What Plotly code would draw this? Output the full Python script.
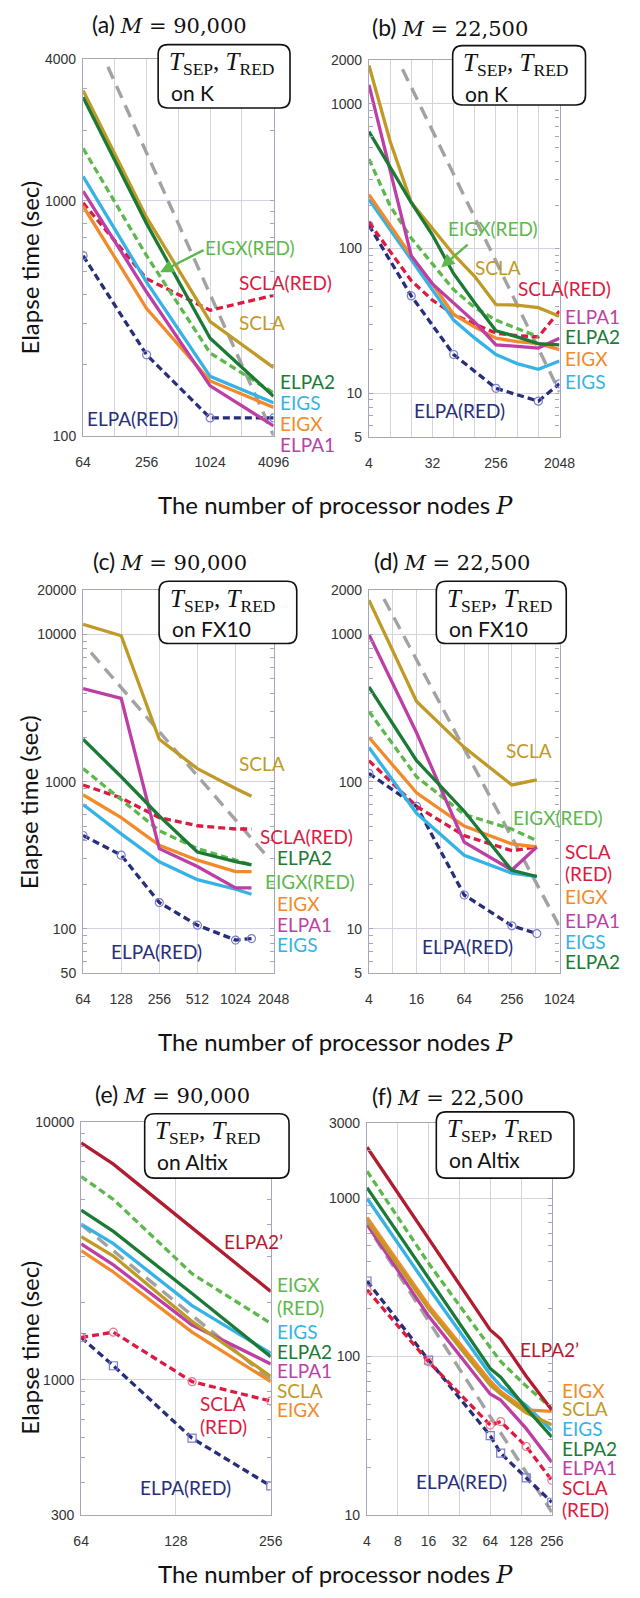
import math
import plotly.graph_objects as go

W, H = 640, 1598

# ---------------- data (elapse time in seconds vs. number of nodes P) ----------------
# (a) K computer, M = 90,000
A_P = [64, 256, 1024, 4096]
A_VALUES = {
    "SCLA": [2950, 850, 306, 195],
    "SCLA(RED)": [980, 466, 342, 396],
    "EIGX": [949, 348, 171, 132],
    "EIGX(RED)": [1674, 584, 225, 152],
    "ELPA1": [1100, 409, 163, 110],
    "ELPA2": [2765, 800, 260, 147],
    "ELPA(RED)": [584, 221, 119, 119],
    "EIGS": [1271, 451, 179, 138],
}
A_IDEAL_P = [110, 4096]
A_IDEAL = [3720, 100]

# (b) K computer, M = 22,500
B_P = [4, 8, 16, 32, 64, 128, 256, 512, 1024, 2048]
B_VALUES = {
    "SCLA": [1850, 552, 208, 138, 91, 64, 41, 40.6, 39, 34],
    "SCLA(RED)": [152, 96, 60, 44, 35, 30, 26, 25, 24.5, 37],
    "EIGX": [236, 145, 89, 57, 35, 28.6, 24, 22.7, 22, 20],
    "EIGX(RED)": [416, 197, 118, 78, 52, 39, 32, 28, 24.6, None],
    "ELPA1": [1358, 340, 89, 57, 42, 31, 21.6, 21, 20.5, 24],
    "ELPA2": [644, 366, 208, 124, 67, 42, 27, 24.5, 22, 21.6],
    "ELPA(RED)": [145, None, 47, None, 18.5, None, 10.8, None, 8.8, 11.6],
    "EIGS": [219, 135, 84, 52, 32, 24, 18.5, 16, 14.6, 16.7],
}
B_IDEAL_P = [12, 2048]
B_IDEAL = [1740, 10.2]

# (c) FX10, M = 90,000
C_P = [64, 128, 256, 512, 1024, 1369]
C_VALUES = {
    "SCLA": [11720, 9800, 1942, 1226, 900, 795],
    "SCLA(RED)": [950, 775, 570, 502, 477, 477],
    "EIGX": [815, 570, 370, 293, 245, 245],
    "EIGX(RED)": [1226, 755, 465, 351, 293, 272],
    "ELPA1": [4285, 3675, 351, 265, 190, 190],
    "ELPA2": [1942, 1080, 585, 333, 286, 272],
    "ELPA(RED)": [431, 317, 151, 106, 84, 86],
    "EIGS": [700, 442, 286, 216, 186, 172],
}
C_IDEAL_P = [74, 1850]
C_IDEAL = [7516, 305]

# (d) FX10, M = 22,500
D_P = [4, 16, 64, 256, 529]
D_VALUES = {
    "SCLA": [1711, 350, 171, 95, 103],
    "SCLA(RED)": [139, 68, 43, 34, 36],
    "EIGX": [200, 84, 50, 37.8, 36],
    "EIGX(RED)": [300, 108, 60, 47.6, 39.8],
    "ELPA1": [1000, 215, 38.8, 25.1, 36],
    "ELPA2": [441, 139, 63, 25, 22.7],
    "ELPA(RED)": [114, 68, 17, 10.5, 9.3],
    "EIGS": [171, 61, 31.6, 23.9, 22.7],
}
D_IDEAL_P = [6.2, 1024]
D_IDEAL = [1740, 10.4]

# (e) Altix, M = 90,000
E_P = [64, 81, 144, 256]
E_VALUES = {
    "ELPA2'": [8277, 6850, 3880, 2198],
    "EIGX(RED)": [6133, 5000, 2577, 1656],
    "ELPA2": [4545, 3760, 2160, 1228],
    "EIGS": [4006, 3370, 1940, 1267],
    "SCLA": [3588, 3016, 1683, 1032],
    "ELPA1": [3366, 2788, 1630, 1152],
    "EIGX": [3164, 2617, 1531, 984],
    "SCLA(RED)": [1459, 1530, 984, 827],
    "ELPA(RED)": [1459, 1134, 594, 388],
}
E_IDEAL_P = [64, 256]
E_IDEAL = [4000, 1000]

# (f) Altix, M = 22,500
F_P = [4, 16, 64, 81, 144, 256]
F_VALUES = {
    "ELPA2'": [2100, 555, 147, 129, 75, 46],
    "EIGX(RED)": [1483, 388, 114, 93, 65, 47],
    "ELPA2": [1166, 316, 84, 74, 47, 31],
    "EIGS": [1000, 271, 77, 65, 49, 34],
    "EIGX": [755, 210, 70, 60, 46, 45],
    "SCLA": [718, 200, 66, 58, 44, 37],
    "ELPA1": [681, 180, 58, 53, 35, 21.5],
    "SCLA(RED)": [264, 92.6, 36.9, 38.8, 27, 16.5],
    "ELPA(RED)": [300, 95, 31.6, 24.5, 17.1, 12],
}
F_IDEAL_P = [4.8, 256]
F_IDEAL = [560, 10.4]

# tick labels
A_XTICKS = [64, 256, 1024, 4096]; A_YTICKS = [100, 1000, 4000]
B_XTICKS = [4, 32, 256, 2048];    B_YTICKS = [5, 10, 100, 1000, 2000]
C_XTICKS = [64, 128, 256, 512, 1024, 2048]; C_YTICKS = [50, 100, 1000, 10000, 20000]
D_XTICKS = [4, 16, 64, 256, 1024]; D_YTICKS = [5, 10, 100, 1000, 2000]
E_XTICKS = [64, 128, 256];         E_YTICKS = [300, 1000, 10000]
F_XTICKS = [4, 8, 16, 32, 64, 128, 256]; F_YTICKS = [10, 100, 1000, 3000]

# ---------------- styles ----------------
COLORS = {
    "SCLA": "#bf9a26",
    "SCLA(RED)": "#dc1a42",
    "EIGX": "#f28a2a",
    "EIGX(RED)": "#5db84c",
    "ELPA1": "#bd3fa6",
    "ELPA2": "#1b7a34",
    "ELPA(RED)": "#272e7c",
    "EIGS": "#36b3e6",
    "ELPA2'": "#b01c30",
}
DASHED = {"SCLA(RED)", "EIGX(RED)", "ELPA(RED)"}
ORDER = ["ELPA(RED)", "SCLA(RED)", "EIGX(RED)", "EIGS", "EIGX", "ELPA1",
         "SCLA", "ELPA2", "ELPA2'"]
LABEL_FONT = "Lato"
TICK_FONT = "Liberation Sans"
SERIF = "DejaVu Serif"
GRID = "#d3d3df"
FRAME = "#a6a6ba"


def X(px):
    return px / W


def Y(py):
    return 1 - py / H


def fmt(v):
    return f"{v:g}"


panels = [
    dict(k="", P=A_P, V=A_VALUES, IP=A_IDEAL_P, IV=A_IDEAL, xt=A_XTICKS, yt=A_YTICKS,
         xr=(64, 4096), yr=(100, 4000), box=(78, 276, 52, 432), xgrid=True,
         sq=False, machine="K", title="(a)", M="90,000"),
    dict(k="2", P=B_P, V=B_VALUES, IP=B_IDEAL_P, IV=B_IDEAL, xt=B_XTICKS, yt=B_YTICKS,
         xr=(4, 2048), yr=(5, 2000), box=(375, 573, 53, 433), xgrid=True,
         sq=False, machine="K", title="(b)", M="22,500"),
    dict(k="3", P=C_P, V=C_VALUES, IP=C_IDEAL_P, IV=C_IDEAL, xt=C_XTICKS, yt=C_YTICKS,
         xr=(64, 2048), yr=(50, 20000), box=(78, 276, 588, 975), xgrid=True,
         sq=False, machine="FX10", title="(c)", M="90,000"),
    dict(k="4", P=D_P, V=D_VALUES, IP=D_IDEAL_P, IV=D_IDEAL, xt=D_XTICKS, yt=D_YTICKS,
         xr=(4, 1024), yr=(5, 2000), box=(375, 573, 588, 975), xgrid=True,
         sq=False, machine="FX10", title="(d)", M="22,500"),
    dict(k="5", P=E_P, V=E_VALUES, IP=E_IDEAL_P, IV=E_IDEAL, xt=E_XTICKS, yt=E_YTICKS,
         xr=(64, 256), yr=(300, 10000), box=(76, 273, 1125, 1522), xgrid=False,
         sq=True, machine="Altix", title="(e)", M="90,000"),
    dict(k="6", P=F_P, V=F_VALUES, IP=F_IDEAL_P, IV=F_IDEAL, xt=F_XTICKS, yt=F_YTICKS,
         xr=(4, 256), yr=(10, 3000), box=(373, 565, 1126, 1522), xgrid=True,
         sq=True, machine="Altix", title="(f)", M="22,500"),
]

TITLE_POS = [(168, 16), (459, 19), (168, 559), (461, 559), (171, 1097), (457, 1099)]
BOXES = [(156, 37, 293, 101), (462, 38, 600, 98), (157, 579, 300, 642),
         (445, 579, 580, 642), (142, 1117, 292, 1182), (445, 1115, 588, 1182)]

LABELS = [
    [("EIGX(RED)", 203, 242, "EIGX(RED)"), ("SCLA(RED)", 238, 277, "SCLA(RED)"),
     ("SCLA", 238, 318, "SCLA"), ("ELPA2", 280, 377, "ELPA2"), ("EIGS", 280, 398, "EIGS"),
     ("EIGX", 280, 420, "EIGX"), ("ELPA1", 280, 441, "ELPA1"),
     ("ELPA(RED)", 80, 415, "ELPA(RED)")],
    [("EIGX(RED)", 455, 223, "EIGX(RED)"), ("SCLA", 483, 262, "SCLA"),
     ("SCLA(RED)", 528, 283, "SCLA(RED)"), ("ELPA1", 577, 312, "ELPA1"),
     ("ELPA2", 577, 332, "ELPA2"), ("EIGX", 577, 354, "EIGX"), ("EIGS", 577, 377, "EIGS"),
     ("ELPA(RED)", 420, 407, "ELPA(RED)")],
    [("SCLA", 238, 763, "SCLA"), ("SCLA(RED)", 260, 837, "SCLA(RED)"),
     ("ELPA2", 277, 858, "ELPA2"), ("EIGX(RED)", 265, 882, "EIGX(RED)"),
     ("EIGX", 277, 905, "EIGX"), ("ELPA1", 277, 926, "ELPA1"), ("EIGS", 277, 946, "EIGS"),
     ("ELPA(RED)", 105, 953, "ELPA(RED)")],
    [("SCLA", 515, 750, "SCLA"), ("EIGX(RED)", 523, 818, "EIGX(RED)"),
     ("SCLA(RED)", 577, 852, "SCLA"), ("SCLA(RED)", 577, 874, "(RED)"),
     ("EIGX", 577, 897, "EIGX"), ("ELPA1", 577, 922, "ELPA1"), ("EIGS", 577, 943, "EIGS"),
     ("ELPA2", 577, 963, "ELPA2"), ("ELPA(RED)", 428, 948, "ELPA(RED)")],
    [("ELPA2'", 222, 1246, "ELPA2’"), ("EIGX(RED)", 277, 1289, "EIGX"),
     ("EIGX(RED)", 277, 1313, "(RED)"), ("EIGS", 277, 1337, "EIGS"),
     ("ELPA2", 277, 1357, "ELPA2"), ("ELPA1", 277, 1376, "ELPA1"),
     ("SCLA", 277, 1396, "SCLA"), ("EIGX", 277, 1416, "EIGX"),
     ("SCLA(RED)", 197, 1410, "SCLA"), ("SCLA(RED)", 197, 1433, "(RED)"),
     ("ELPA(RED)", 135, 1494, "ELPA(RED)")],
    [("ELPA2'", 530, 1355, "ELPA2’"), ("EIGX", 573, 1396, "EIGX"),
     ("SCLA", 573, 1415, "SCLA"), ("EIGS", 573, 1435, "EIGS"),
     ("ELPA2", 573, 1455, "ELPA2"), ("ELPA1", 573, 1474, "ELPA1"),
     ("SCLA(RED)", 573, 1494, "SCLA"), ("SCLA(RED)", 573, 1517, "(RED)"),
     ("ELPA(RED)", 422, 1488, "ELPA(RED)")],
]

fig = go.Figure()
layout = dict(width=W, height=H, margin=dict(l=0, r=0, t=0, b=0),
              paper_bgcolor="white", plot_bgcolor="white", showlegend=False)
annotations = []
shapes = []


def minor_vals(lo, hi):
    out = []
    e0 = math.floor(math.log10(lo))
    e1 = math.ceil(math.log10(hi))
    for e in range(e0, e1 + 1):
        for m in range(2, 10):
            v = m * 10 ** e
            if lo < v < hi:
                out.append(v)
    return out


for i, p in enumerate(panels):
    k = p["k"]
    x0, x1, ytop, ybot = p["box"]
    xa = "xaxis" + k
    ya = "yaxis" + k
    xid = "x" + k
    yid = "y" + k
    lo, hi = p["xr"]
    extra = []
    if p["xgrid"]:
        v = lo
        while v <= hi * 1.001:
            if v not in p["xt"]:
                extra.append(v)
            v *= 2
    layout[xa] = dict(
        type="log", domain=[X(x0), X(x1)], range=[math.log10(lo), math.log10(hi)],
        anchor=yid, tickvals=p["xt"], ticktext=[fmt(v) for v in p["xt"]],
        showgrid=True, gridcolor=GRID, gridwidth=1, showline=True, linecolor=FRAME,
        linewidth=1.2, mirror=True, ticks="", zeroline=False, ticklabelstandoff=13,
        minor=dict(tickvals=extra if extra else [hi * 10], showgrid=True,
                   gridcolor=GRID, gridwidth=1, ticks=""),
        tickfont=dict(family=TICK_FONT, size=14, color="#333333"), fixedrange=True)
    ylo, yhi = p["yr"]
    layout[ya] = dict(
        type="log", domain=[Y(ybot), Y(ytop)], range=[math.log10(ylo), math.log10(yhi)],
        anchor=xid, tickvals=p["yt"], ticktext=[fmt(v) for v in p["yt"]],
        showgrid=True, gridcolor=GRID, gridwidth=1, showline=True, linecolor=FRAME,
        linewidth=1.2, mirror="allticks", ticks="inside", ticklen=4, tickcolor=FRAME,
        zeroline=False, ticklabelstandoff=3,
        minor=dict(tickvals=minor_vals(ylo, yhi), ticks="inside", ticklen=4,
                   tickcolor=FRAME, showgrid=False),
        tickfont=dict(family=TICK_FONT, size=14, color="#333333"), fixedrange=True)

    # ideal scaling line
    fig.add_trace(go.Scatter(x=p["IP"], y=p["IV"], mode="lines", xaxis=xid, yaxis=yid,
                             line=dict(color="#a2a2a2", width=3.4, dash="13px,8px"),
                             hoverinfo="skip"))
    for name in ORDER:
        if name not in p["V"]:
            continue
        vals = p["V"][name]
        col = COLORS[name]
        dash = "7px,4px" if name in DASHED else "solid"
        mode = "lines"
        marker = None
        if name == "ELPA(RED)":
            mode = "lines+markers"
            marker = dict(symbol="square-open" if p["sq"] else "circle-open",
                          size=8, color="#7c7cd0", line=dict(width=1.2))
        elif name == "SCLA(RED)" and p["sq"]:
            mode = "lines+markers"
            marker = dict(symbol="circle-open", size=8, color="#f07890",
                          line=dict(width=1.2))
        fig.add_trace(go.Scatter(x=p["P"], y=vals, mode=mode, xaxis=xid, yaxis=yid,
                                 connectgaps=True, marker=marker,
                                 line=dict(color=col, width=3.3, dash=dash), name=name))

    # title
    tx, ty = TITLE_POS[i]
    annotations.append(dict(
        x=X(tx), y=Y(ty), xref="paper", yref="paper", showarrow=False,
        xanchor="center", yanchor="middle",
        text=(f"<span style='font-family:{LABEL_FONT};font-size:23px'>{p['title']} </span>"
              f"<i>M</i> = {p['M']}"),
        font=dict(family=SERIF, size=21, color="#111111")))

    # rounded box with machine label
    bx0, by0, bx1, by1 = BOXES[i]
    r = 10
    path = (f"M {X(bx0 + r)},{Y(by0)} L {X(bx1 - r)},{Y(by0)} "
            f"Q {X(bx1)},{Y(by0)} {X(bx1)},{Y(by0 + r)} L {X(bx1)},{Y(by1 - r)} "
            f"Q {X(bx1)},{Y(by1)} {X(bx1 - r)},{Y(by1)} L {X(bx0 + r)},{Y(by1)} "
            f"Q {X(bx0)},{Y(by1)} {X(bx0)},{Y(by1 - r)} L {X(bx0)},{Y(by0 + r)} "
            f"Q {X(bx0)},{Y(by0)} {X(bx0 + r)},{Y(by0)} Z")
    shapes.append(dict(type="path", path=path, xref="paper", yref="paper",
                       fillcolor="white", line=dict(color="#111111", width=1.6),
                       layer="above"))
    annotations.append(dict(
        x=X(bx0 + 9), y=Y(by0 + 19), xref="paper", yref="paper", showarrow=False,
        xanchor="left", yanchor="middle",
        text="<i>T</i><sub>SEP</sub>, <i>T</i><sub>RED</sub>",
        font=dict(family="Liberation Serif", size=25, color="#111111")))
    annotations.append(dict(
        x=X(bx0 + 11), y=Y(by0 + 48), xref="paper", yref="paper", showarrow=False,
        xanchor="left", yanchor="middle", text="on " + p["machine"],
        font=dict(family=LABEL_FONT, size=21, color="#111111")))

    # series labels
    for key, lx, ly, txt in LABELS[i]:
        annotations.append(dict(
            x=X(lx), y=Y(ly), xref="paper", yref="paper", showarrow=False,
            xanchor="left", yanchor="middle", text=txt,
            font=dict(family=LABEL_FONT, size=19, color=COLORS[key])))

# arrows for EIGX(RED) labels in (a) and (b)
for (hx, hy, tx_, ty_) in [(158, 267, 203, 244), (450, 262, 478, 238)]:
    annotations.append(dict(
        x=X(hx), y=Y(hy), xref="paper", yref="paper", text="", showarrow=True,
        ax=tx_ - hx, ay=ty_ - hy, axref="pixel", ayref="pixel",
        arrowhead=2, arrowsize=1.1, arrowwidth=2.4, arrowcolor=COLORS["EIGX(RED)"]))

# axis titles
for yc in (262, 802, 1353):
    annotations.append(dict(
        x=X(22), y=Y(yc), xref="paper", yref="paper", showarrow=False,
        xanchor="center", yanchor="middle", textangle=-90, text="Elapse time (sec)",
        font=dict(family=LABEL_FONT, size=24, color="#111111")))
for yc in (502, 1044, 1582):
    annotations.append(dict(
        x=X(340), y=Y(yc), xref="paper", yref="paper", showarrow=False,
        xanchor="center", yanchor="middle",
        text=(f"The number of processor nodes "
              f"<span style='font-family:{SERIF}'><i>P</i></span>"),
        font=dict(family=LABEL_FONT, size=24, color="#111111")))

layout["annotations"] = annotations
layout["shapes"] = shapes
fig.update_layout(**layout)
fig.write_html("out.html")
